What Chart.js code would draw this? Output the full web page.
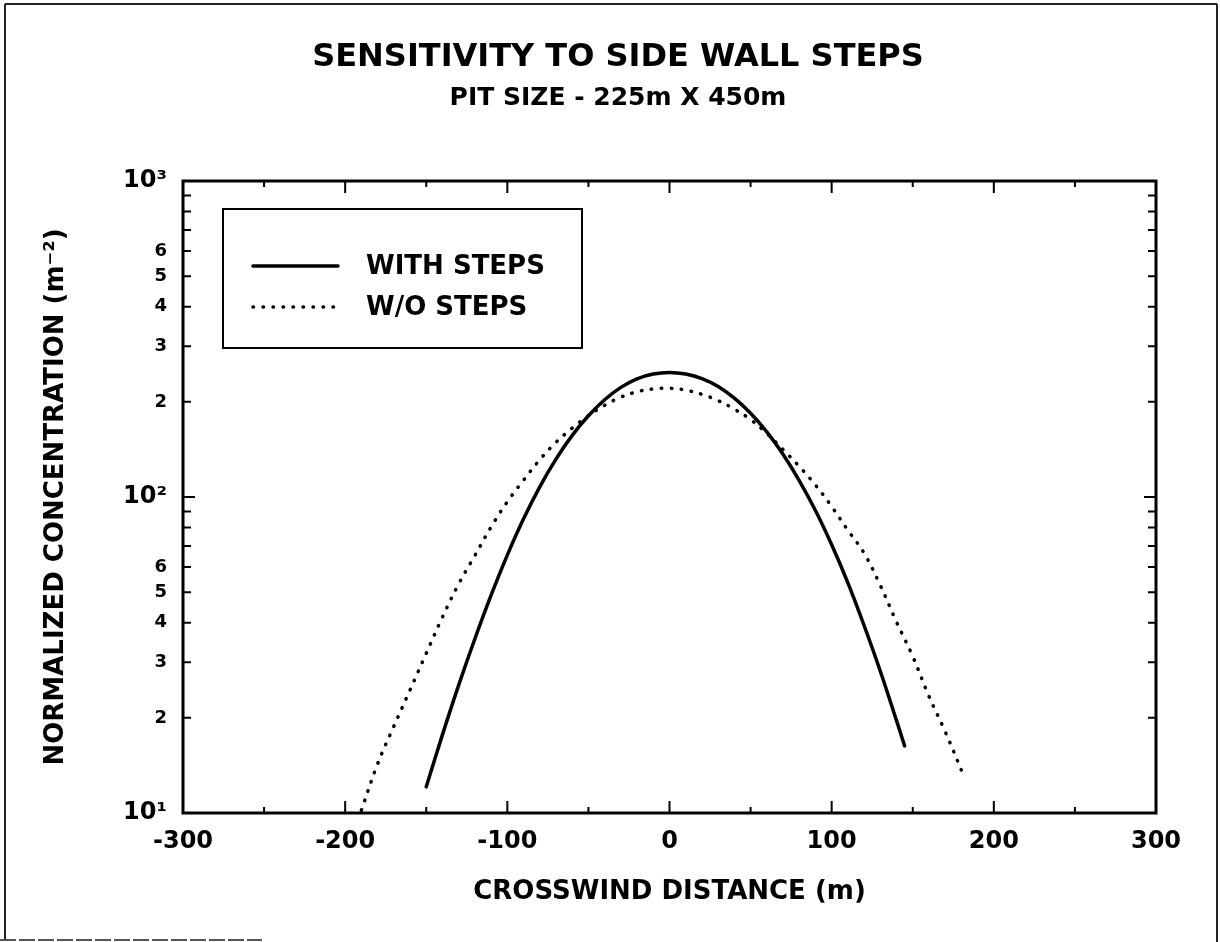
<!DOCTYPE html>
<html>
<head>
<meta charset="utf-8">
<title>Sensitivity to side wall steps</title>
<script src="https://cdn.jsdelivr.net/npm/chart.js@4.4.1/dist/chart.umd.min.js"></script>
<style>
  html, body { margin: 0; padding: 0; background: #fff; }
  canvas { display: block; }
</style>
</head>
<body>
<canvas id="pitChart" width="1220" height="942"></canvas>
<script>
// Crosswind distance (m) vs normalized concentration (m^-2)
const withStepsX = [-150, -140, -130, -120, -110, -100, -90, -80, -70, -60, -50, -40, -30, -20, -10, 0,
  10, 20, 30, 40, 50, 60, 70, 80, 90, 100, 110, 120, 130, 140, 145];
const withStepsY = [12.1, 17.7, 25.4, 35.6, 48.9, 65.5, 85.3, 107.7, 131.8, 156.7, 180.7, 203.2, 222.3, 236.6, 244.9, 247.7,
  244.9, 237.1, 223.9, 205.6, 184.1, 160.7, 136.5, 112.7, 90.6, 70.6, 53.5, 39.2, 28.1, 19.6, 16.3];

const withoutStepsX = [-190, -180, -170, -160, -150, -140, -130, -120, -110, -100, -90, -80, -70, -60, -50, -40, -30, -20, -10, 0,
  10, 20, 30, 40, 50, 60, 70, 80, 90, 100, 110, 120, 130, 140, 150, 160, 170, 182];
const withoutStepsY = [10.2, 14.3, 18.8, 24.5, 32.0, 41.7, 53.1, 65.3, 80.4, 96.6, 113, 131.2, 148.9, 165.2, 180.7, 195, 207, 215.3, 219.8, 220.8,
  217.8, 211.3, 201.8, 189.7, 175.8, 158.9, 141.3, 125, 109.1, 93.3, 78.5, 66.4, 52.5, 40.2, 31.3, 23.4, 18.1, 12.9];

// Axis ticks
const xTickValues = [-300, -200, -100, 0, 100, 200, 300];
const xTickLabels = ["-300", "-200", "-100", "0", "100", "200", "300"];
const xMinorTicks = [-250, -150, -50, 50, 150, 250];

const yTickValues = [10, 20, 30, 40, 50, 60, 70, 80, 90, 100, 200, 300, 400, 500, 600, 700, 800, 900, 1000];
const yTickLabels = ["10¹", "2", "3", "4", "5", "6", "", "", "", "10²", "2", "3", "4", "5", "6", "", "", "", "10³"];
const yDecades = [10, 100, 1000];

const FONT = "'DejaVu Sans', 'Liberation Sans', sans-serif";

Chart.defaults.font.family = FONT;
Chart.defaults.font.weight = "bold";
Chart.defaults.color = "#000";

function toPoints(xs, ys) {
  return xs.map((x, i) => ({ x: x, y: ys[i] }));
}

// White page with the scanned sheet border
const pageFrame = {
  id: "pageFrame",
  beforeDraw(chart) {
    const ctx = chart.ctx;
    ctx.save();
    ctx.fillStyle = "#fff";
    ctx.fillRect(0, 0, chart.width, chart.height);
    ctx.strokeStyle = "#222";
    ctx.lineWidth = 2;
    ctx.beginPath();
    ctx.moveTo(5, 4);
    ctx.lineTo(1217, 4);
    ctx.moveTo(5, 4);
    ctx.lineTo(5, 940);
    ctx.moveTo(1217, 4);
    ctx.lineTo(1217, 942);
    ctx.stroke();
    // bottom edge is only partly visible
    ctx.strokeStyle = "#555";
    ctx.setLineDash([16, 3]);
    ctx.beginPath();
    ctx.moveTo(0, 940);
    ctx.lineTo(262, 940);
    ctx.stroke();
    ctx.restore();
  },
};

// Plot box with ticks pointing inward on all four sides
const insideTicks = {
  id: "insideTicks",
  afterDatasetsDraw(chart) {
    const { ctx, chartArea: a, scales } = chart;
    ctx.save();
    ctx.strokeStyle = "#000";
    ctx.lineWidth = 2;
    ctx.beginPath();
    xTickValues.concat(xMinorTicks).forEach((v) => {
      const px = scales.x.getPixelForValue(v);
      const len = xTickValues.includes(v) ? 12 : 6;
      ctx.moveTo(px, a.bottom);
      ctx.lineTo(px, a.bottom - len);
      ctx.moveTo(px, a.top);
      ctx.lineTo(px, a.top + len);
    });
    yTickValues.forEach((v) => {
      const py = scales.y.getPixelForValue(v);
      const len = yDecades.includes(v) ? 12 : 8;
      ctx.moveTo(a.left, py);
      ctx.lineTo(a.left + len, py);
      ctx.moveTo(a.right, py);
      ctx.lineTo(a.right - len, py);
    });
    ctx.stroke();
    ctx.lineWidth = 3;
    ctx.strokeRect(a.left, a.top, a.right - a.left, a.bottom - a.top);
    ctx.restore();
  },
};

// Boxed legend in the upper left of the plot
const boxLegend = {
  id: "boxLegend",
  afterDraw(chart) {
    const ctx = chart.ctx;
    const box = { left: 223, top: 209, right: 582, bottom: 348 };
    ctx.save();
    ctx.fillStyle = "#fff";
    ctx.fillRect(box.left, box.top, box.right - box.left, box.bottom - box.top);
    ctx.strokeStyle = "#000";
    ctx.lineWidth = 2;
    ctx.strokeRect(box.left, box.top, box.right - box.left, box.bottom - box.top);

    chart.data.datasets.forEach((ds, i) => {
      const y = 266 + i * 41;
      ctx.beginPath();
      ctx.lineWidth = ds.borderWidth;
      ctx.lineCap = ds.borderCapStyle || "butt";
      ctx.setLineDash(ds.borderDash || []);
      ctx.moveTo(253, y);
      ctx.lineTo(338, y);
      ctx.stroke();
      ctx.setLineDash([]);
      ctx.fillStyle = "#000";
      ctx.font = "bold 26px " + FONT;
      ctx.textBaseline = "middle";
      ctx.textAlign = "left";
      ctx.fillText(ds.label, 366, y + 1);
    });
    ctx.restore();
  },
};

const ctx = document.getElementById("pitChart");

new Chart(ctx, {
  type: "line",
  data: {
    datasets: [
      {
        label: "WITH STEPS",
        data: toPoints(withStepsX, withStepsY),
        borderColor: "#000",
        borderWidth: 3.5,
        borderCapStyle: "round",
        pointRadius: 0,
        tension: 0.4,
      },
      {
        label: "W/O STEPS",
        data: toPoints(withoutStepsX, withoutStepsY),
        borderColor: "#000",
        borderWidth: 3.5,
        borderDash: [0.5, 9.5],
        borderCapStyle: "round",
        pointRadius: 0,
        tension: 0.4,
      },
    ],
  },
  options: {
    responsive: false,
    animation: false,
    devicePixelRatio: 1,
    layout: { padding: { left: 16, right: 0, top: 0, bottom: 0 } },
    plugins: {
      legend: { display: false },
      tooltip: { enabled: false },
      title: {
        display: true,
        text: "SENSITIVITY TO SIDE WALL STEPS",
        font: { size: 32, weight: "bold" },
        color: "#000",
        padding: { top: 38, bottom: 4 },
      },
      subtitle: {
        display: true,
        text: "PIT SIZE - 225m X 450m",
        font: { size: 25, weight: "bold" },
        color: "#000",
        padding: { top: 3, bottom: 67.6 },
      },
    },
    scales: {
      x: {
        type: "linear",
        position: "bottom",
        min: -300,
        max: 300,
        grid: { display: false, drawTicks: false },
        border: { display: false },
        afterBuildTicks: (scale) => {
          scale.ticks = xTickValues.map((v) => ({ value: v }));
        },
        afterFit: (scale) => {
          scale.height = 129;
        },
        ticks: {
          autoSkip: false,
          maxRotation: 0,
          padding: 14,
          font: { size: 24, weight: "bold" },
          callback: (value) => xTickLabels[xTickValues.indexOf(value)],
        },
        title: {
          display: true,
          text: "CROSSWIND DISTANCE (m)",
          font: { size: 26, weight: "bold" },
          padding: { top: 0, bottom: 34 },
        },
      },
      y: {
        type: "logarithmic",
        position: "left",
        min: 10,
        max: 1000,
        grid: { display: false, drawTicks: false },
        border: { display: false },
        afterBuildTicks: (scale) => {
          scale.ticks = yTickValues.map((v) => ({ value: v, major: yDecades.includes(v) }));
        },
        afterFit: (scale) => {
          scale.width = 167;
        },
        ticks: {
          autoSkip: false,
          padding: 16,
          font: (c) => {
            const big = c.tick && yDecades.includes(c.tick.value);
            return { size: big ? 24 : 18, weight: "bold" };
          },
          callback: (value) => yTickLabels[yTickValues.indexOf(value)],
        },
        title: {
          display: true,
          text: "NORMALIZED CONCENTRATION (m⁻²)",
          font: { size: 26, weight: "bold" },
          padding: { top: 25, bottom: 0 },
        },
      },
      // right-hand axis only holds the margin beside the plot
      yRight: {
        type: "logarithmic",
        position: "right",
        min: 10,
        max: 1000,
        grid: { display: false, drawTicks: false },
        border: { display: false },
        ticks: { display: false },
        afterFit: (scale) => {
          scale.width = 64;
        },
      },
    },
  },
  plugins: [pageFrame, insideTicks, boxLegend],
});
</script>
</body>
</html>
